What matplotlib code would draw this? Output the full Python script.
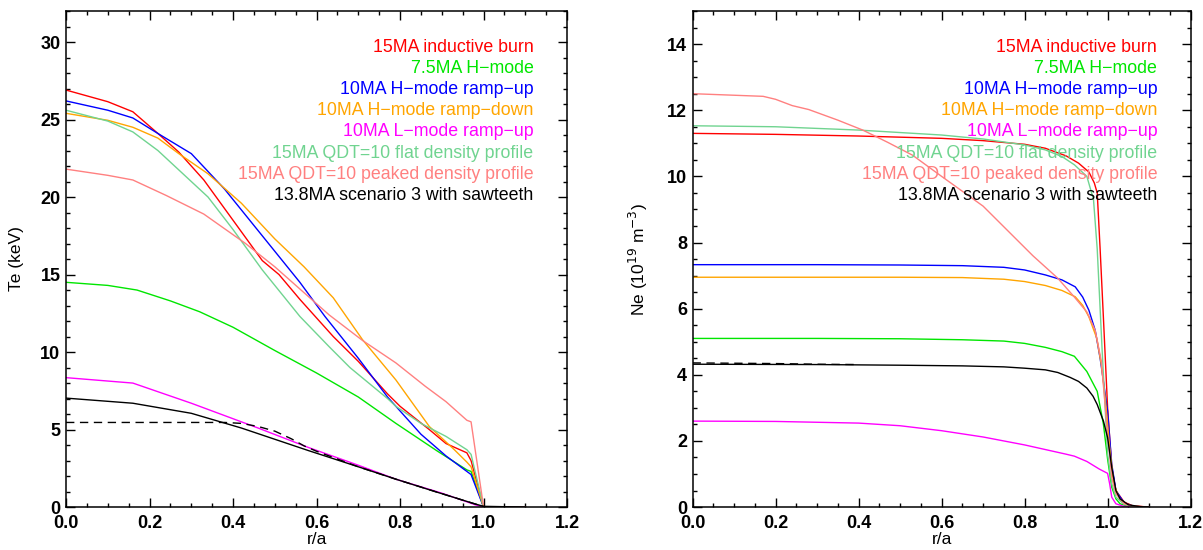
import matplotlib
matplotlib.use("Agg")
import matplotlib.pyplot as plt
from matplotlib.ticker import MultipleLocator

plt.rcParams['font.family'] = ['Liberation Sans', 'DejaVu Sans']

labels = ["15MA inductive burn", "7.5MA H\u2212mode", "10MA H\u2212mode ramp\u2212up",
          "10MA H\u2212mode ramp\u2212down", "10MA L\u2212mode ramp\u2212up",
          "15MA QDT=10 flat density profile", "15MA QDT=10 peaked density profile",
          "13.8MA scenario 3 with sawteeth"]
colors = ["#ff0000", "#00e600", "#0000ff", "#ffa500", "#ff00ff", "#70d490", "#ff8080", "#000000"]

# ---- Te profiles (keV) ----
te_r_red = [0, 0.1, 0.16, 0.22, 0.27, 0.33, 0.4, 0.47, 0.51, 0.56, 0.64, 0.7, 0.77, 0.8, 0.87, 0.91, 0.96, 0.97, 1.0, 1.1]
te_red = [26.9, 26.15, 25.5, 24.1, 22.9, 21.1, 18.5, 15.9, 15.0, 13.4, 11.0, 9.4, 7.3, 6.5, 5.0, 4.1, 3.5, 3.0, 0.0, 0.0]
te_r_green = [0, 0.1, 0.17, 0.25, 0.32, 0.4, 0.5, 0.6, 0.7, 0.79, 0.89, 0.96, 0.97, 1.0, 1.1]
te_green = [14.5, 14.3, 14.0, 13.3, 12.6, 11.6, 10.1, 8.65, 7.1, 5.4, 3.6, 2.4, 2.3, 0.0, 0.0]
te_r_blue = [0, 0.1, 0.16, 0.22, 0.3, 0.38, 0.44, 0.5, 0.56, 0.62, 0.7, 0.77, 0.79, 0.85, 0.91, 0.96, 0.97, 1.0, 1.1]
te_blue = [26.2, 25.6, 25.1, 24.1, 22.8, 20.5, 18.5, 16.5, 14.5, 12.3, 9.6, 7.1, 6.5, 4.7, 3.3, 2.3, 2.1, 0.0, 0.0]
te_r_orange = [0, 0.1, 0.16, 0.22, 0.27, 0.34, 0.42, 0.5, 0.57, 0.64, 0.71, 0.79, 0.87, 0.93, 0.96, 0.97, 1.0, 1.1]
te_orange = [25.4, 24.95, 24.5, 23.8, 22.8, 21.5, 19.6, 17.3, 15.5, 13.5, 10.8, 8.2, 5.2, 3.7, 2.9, 2.6, 0.0, 0.0]
te_r_magenta = [0, 0.16, 0.3, 0.46, 0.58, 0.7, 0.79, 0.9, 0.98, 1.0, 1.1]
te_magenta = [8.35, 8.0, 6.7, 5.1, 3.85, 2.7, 1.8, 0.9, 0.15, 0.0, 0.0]
te_r_flat = [0, 0.1, 0.16, 0.22, 0.28, 0.34, 0.4, 0.47, 0.56, 0.63, 0.68, 0.77, 0.79, 0.85, 0.91, 0.96, 0.97, 1.0, 1.1]
te_flat = [25.6, 24.9, 24.2, 23.0, 21.5, 20.0, 17.9, 15.3, 12.3, 10.35, 9.0, 7.0, 6.5, 5.4, 4.56, 3.7, 3.4, 0.0, 0.0]
te_r_peaked = [0, 0.1, 0.16, 0.24, 0.33, 0.43, 0.5, 0.63, 0.71, 0.79, 0.86, 0.91, 0.96, 0.97, 1.0, 1.1]
te_peaked = [21.8, 21.4, 21.1, 20.1, 18.9, 17.0, 15.5, 12.4, 10.75, 9.3, 7.8, 6.8, 5.6, 5.5, 0.0, 0.0]
te_r_black = [0, 0.16, 0.3, 0.42, 0.58, 0.7, 0.79, 0.89, 0.98, 1.0, 1.1]
te_black = [7.03, 6.7, 6.05, 5.1, 3.65, 2.6, 1.8, 0.95, 0.2, 0.05, 0.0]
te_r_dash = [0, 0.2, 0.38, 0.42, 0.46, 0.5, 0.54, 0.57, 0.6, 0.7, 0.79, 0.89, 0.98, 1.0]
te_dash = [5.46, 5.46, 5.46, 5.4, 5.2, 4.9, 4.4, 3.95, 3.6, 2.6, 1.8, 0.95, 0.2, 0.05]

# ---- Ne profiles (1e19 m^-3) ----
ne_r_red = [0, 0.2, 0.4, 0.6, 0.7, 0.8, 0.85, 0.9, 0.93, 0.955, 0.968, 0.975, 0.982, 0.99, 1.0, 1.01, 1.02, 1.04, 1.06, 1.1]
ne_red = [11.3, 11.27, 11.22, 11.15, 11.08, 10.97, 10.85, 10.62, 10.4, 10.13, 9.8, 9.5, 7.8, 5.7, 3.0, 1.2, 0.5, 0.15, 0.04, 0.0]
ne_r_green = [0, 0.3, 0.5, 0.65, 0.75, 0.8, 0.85, 0.89, 0.92, 0.95, 0.975, 0.99, 1.0, 1.01, 1.02, 1.03, 1.05, 1.1]
ne_green = [5.1, 5.1, 5.09, 5.06, 5.02, 4.95, 4.83, 4.7, 4.56, 4.1, 3.5, 2.5, 1.45, 0.6, 0.25, 0.1, 0.02, 0.0]
ne_r_blue = [0, 0.3, 0.5, 0.65, 0.75, 0.8, 0.85, 0.89, 0.922, 0.94, 0.955, 0.97, 0.982, 0.99, 1.0, 1.01, 1.02, 1.04, 1.06, 1.1]
ne_blue = [7.33, 7.33, 7.32, 7.3, 7.25, 7.17, 7.02, 6.87, 6.66, 6.35, 5.95, 5.35, 4.5, 3.8, 2.9, 1.3, 0.5, 0.12, 0.03, 0.0]
ne_r_orange = [0, 0.3, 0.5, 0.65, 0.75, 0.8, 0.85, 0.89, 0.922, 0.94, 0.955, 0.974, 0.985, 0.995, 1.005, 1.015, 1.03, 1.05, 1.1]
ne_orange = [6.95, 6.95, 6.95, 6.94, 6.89, 6.82, 6.7, 6.55, 6.36, 6.1, 5.75, 5.1, 4.3, 3.2, 1.8, 0.7, 0.2, 0.04, 0.0]
ne_r_magenta = [0, 0.2, 0.4, 0.5, 0.6, 0.7, 0.8, 0.85, 0.9, 0.92, 0.95, 0.98, 1.0, 1.005, 1.01, 1.02, 1.04, 1.1]
ne_magenta = [2.6, 2.59, 2.54, 2.46, 2.31, 2.12, 1.88, 1.74, 1.6, 1.54, 1.38, 1.15, 1.02, 0.7, 0.3, 0.1, 0.02, 0.0]
ne_r_flat = [0, 0.2, 0.4, 0.6, 0.7, 0.8, 0.85, 0.89, 0.92, 0.95, 0.966, 0.975, 0.987, 1.0, 1.01, 1.02, 1.04, 1.06, 1.1]
ne_flat = [11.53, 11.5, 11.4, 11.25, 11.13, 10.95, 10.8, 10.6, 10.35, 10.0, 9.3, 7.8, 4.7, 1.6, 0.7, 0.3, 0.08, 0.02, 0.0]
ne_r_peaked = [0, 0.17, 0.2, 0.24, 0.28, 0.35, 0.41, 0.47, 0.53, 0.6, 0.65, 0.7, 0.76, 0.82, 0.88, 0.92, 0.95, 0.97, 0.985, 1.0, 1.01, 1.02, 1.04, 1.06, 1.1]
ne_peaked = [12.5, 12.42, 12.33, 12.14, 12.02, 11.7, 11.4, 11.03, 10.64, 10.0, 9.55, 9.1, 8.35, 7.6, 6.92, 6.35, 5.9, 5.35, 4.4, 2.2, 0.9, 0.4, 0.1, 0.03, 0.0]
ne_r_black = [0, 0.3, 0.5, 0.65, 0.75, 0.8, 0.85, 0.88, 0.91, 0.93, 0.95, 0.965, 0.975, 0.99, 1.0, 1.01, 1.02, 1.03, 1.05, 1.08, 1.1]
ne_black = [4.32, 4.31, 4.29, 4.27, 4.24, 4.2, 4.15, 4.07, 3.92, 3.8, 3.6, 3.35, 3.1, 2.6, 2.1, 1.2, 0.5, 0.25, 0.07, 0.01, 0.0]
ne_r_dash = [0, 0.1, 0.2, 0.3, 0.4]
ne_dash = [4.36, 4.35, 4.34, 4.32, 4.31]

te_series = [(te_r_red, te_red), (te_r_green, te_green), (te_r_blue, te_blue), (te_r_orange, te_orange),
             (te_r_magenta, te_magenta), (te_r_flat, te_flat), (te_r_peaked, te_peaked), (te_r_black, te_black)]
ne_series = [(ne_r_red, ne_red), (ne_r_green, ne_green), (ne_r_blue, ne_blue), (ne_r_orange, ne_orange),
             (ne_r_magenta, ne_magenta), (ne_r_flat, ne_flat), (ne_r_peaked, ne_peaked), (ne_r_black, ne_black)]


def style_axes(ax, ymax, ymaj, ymin):
    ax.set_xlim(0, 1.2)
    ax.set_ylim(0, ymax)
    ax.xaxis.set_major_locator(MultipleLocator(0.2))
    ax.xaxis.set_minor_locator(MultipleLocator(0.05))
    ax.yaxis.set_major_locator(MultipleLocator(ymaj))
    ax.yaxis.set_minor_locator(MultipleLocator(ymin))
    ax.tick_params(which='both', direction='in', top=True, right=True, width=1.0)
    ax.tick_params(which='major', length=6.5, labelsize=13)
    ax.tick_params(which='minor', length=3.2)
    ax.tick_params(axis='x', pad=6)
    ax.tick_params(axis='y', pad=4)
    for lab in ax.get_xticklabels() + ax.get_yticklabels():
        lab.set_fontweight('bold')
    for s in ax.spines.values():
        s.set_linewidth(1.1)
    ax.set_xlabel("r/a", fontsize=12.5, labelpad=0)
    ax.xaxis.set_major_formatter(matplotlib.ticker.FormatStrFormatter('%.1f'))
    ax.yaxis.set_major_formatter(matplotlib.ticker.FormatStrFormatter('%d'))


def add_labels(ax):
    y0, dy = 0.927, (0.927 - 0.628) / 7
    for i, (lab, col) in enumerate(zip(labels, colors)):
        ax.text(0.933, y0 - i * dy, lab, color=col, fontsize=12.8, ha='right', va='center',
                transform=ax.transAxes)


fig = plt.figure(figsize=(12.03, 5.5), dpi=100)
ax1 = fig.add_axes([0.0549, 0.078, 0.4165, 0.902])
ax2 = fig.add_axes([0.5757, 0.078, 0.4140, 0.902])

for (r, v), col in zip(te_series, colors):
    ax1.plot(r, v, color=col, lw=1.0)
ax1.plot(te_r_dash, te_dash, color='black', lw=1.0, ls=(0, (6, 4)))
style_axes(ax1, 32, 5, 1)
ax1.set_ylabel("Te (keV)", fontsize=12.5, labelpad=12)
add_labels(ax1)

for (r, v), col in zip(ne_series, colors):
    ax2.plot(r, v, color=col, lw=1.0)
ax2.plot(ne_r_dash, ne_dash, color='black', lw=1.0, ls=(0, (6, 4)))
style_axes(ax2, 15, 2, 0.5)
ax2.set_ylabel(r"Ne (10$^{19}$ m$^{-3}$)", fontsize=12.5, labelpad=12)
add_labels(ax2)

fig.savefig("out.png", dpi=100)
